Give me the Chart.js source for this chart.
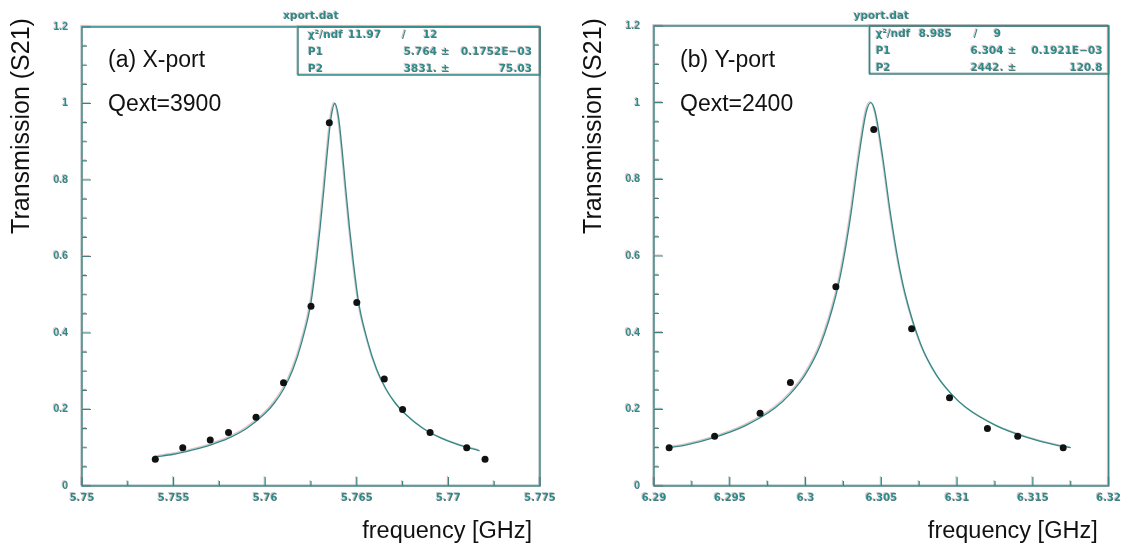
<!DOCTYPE html>
<html>
<head>
<meta charset="utf-8">
<script src="https://cdn.jsdelivr.net/npm/chart.js@4.4.1/dist/chart.umd.min.js"></script>
<style>
  html, body { margin: 0; padding: 0; background: #fff; }
  #wrap { position: relative; width: 1127px; height: 544px; }
  canvas { position: absolute; top: 0; }
  #chartA { left: 0; }
  #chartB { left: 563px; }
</style>
</head>
<body>
<div id="wrap">
  <canvas id="chartA" width="563" height="544"></canvas>
  <canvas id="chartB" width="564" height="544"></canvas>
</div>
<script>
// ---- data ----
const yTicks = [0, 0.2, 0.4, 0.6, 0.8, 1, 1.2];
const yTickLabels = ['0', '0.2', '0.4', '0.6', '0.8', '1', '1.2'];

// (a) X-port
const xTicksA = [5.75, 5.755, 5.76, 5.765, 5.77, 5.775];
const xTickLabelsA = ['5.75', '5.755', '5.76', '5.765', '5.77', '5.775'];
const freqA = [5.754, 5.7555, 5.757, 5.758, 5.7595, 5.761, 5.7625, 5.7635, 5.765, 5.7665, 5.7675, 5.769, 5.771, 5.772];
const transA = [0.07, 0.10, 0.12, 0.14, 0.18, 0.27, 0.47, 0.95, 0.48, 0.28, 0.20, 0.14, 0.10, 0.07];
const fitFreqA = [5.754, 5.755, 5.756, 5.757, 5.758, 5.759, 5.76, 5.7605, 5.761, 5.7615, 5.762, 5.7625, 5.7628,
  5.763, 5.7632, 5.7634, 5.7636, 5.7638, 5.764, 5.7642, 5.7644, 5.7646, 5.7648, 5.7651, 5.7656, 5.7661,
  5.7666, 5.7671, 5.7676, 5.7686, 5.7696, 5.7706, 5.7717];
const fitTransA = [0.076, 0.083, 0.094, 0.107, 0.125, 0.151, 0.19, 0.217, 0.253, 0.303, 0.377, 0.48, 0.59,
  0.676, 0.774, 0.878, 0.965, 1.0, 0.965, 0.878, 0.774, 0.676, 0.59, 0.48, 0.377, 0.303,
  0.253, 0.217, 0.19, 0.151, 0.125, 0.107, 0.092];
const statA = ['11.97', '12', '5.764', '0.1752E\u221203', '3831.', '75.03'];

// (b) Y-port
const xTicksB = [6.29, 6.295, 6.3, 6.305, 6.31, 6.315, 6.32];
const xTickLabelsB = ['6.29', '6.295', '6.3', '6.305', '6.31', '6.315', '6.32'];
const freqB = [6.291, 6.294, 6.297, 6.299, 6.302, 6.3045, 6.307, 6.3095, 6.312, 6.314, 6.317];
const transB = [0.10, 0.13, 0.19, 0.27, 0.52, 0.93, 0.41, 0.23, 0.15, 0.13, 0.10];
const fitFreqB = [6.291, 6.292, 6.294, 6.296, 6.298, 6.299, 6.3, 6.301, 6.302, 6.3025, 6.303, 6.3035, 6.304,
  6.3043, 6.3046, 6.3051, 6.3056, 6.3061, 6.3066, 6.3076, 6.3086, 6.3096, 6.3106, 6.3126, 6.3146,
  6.3166, 6.3175];
const fitTransB = [0.10, 0.106, 0.127, 0.157, 0.204, 0.241, 0.292, 0.37, 0.497, 0.59, 0.711, 0.855, 0.975,
  1.0, 0.975, 0.855, 0.711, 0.59, 0.497, 0.37, 0.292, 0.241, 0.204, 0.157, 0.127,
  0.106, 0.10];
const statB = ['8.985', '9', '6.304', '0.1921E\u221203', '2442.', '120.8'];

// ---- styling ----
const TEAL = '#1f9090';
const FRINGE = 'rgba(235, 120, 120, 0.55)';
const SANS = '"Liberation Sans", Arial, sans-serif';
const PAW = '"DejaVu Sans", sans-serif';

function fringe(ctx, on) {
  ctx.shadowColor = on ? FRINGE : 'rgba(0,0,0,0)';
  ctx.shadowOffsetX = on ? -1 : 0;
  ctx.shadowOffsetY = on ? -1 : 0;
  ctx.shadowBlur = 0;
}

// PAW-style frame, inward ticks, stat box and texts
const pawFrame = {
  id: 'pawFrame',
  beforeDraw(chart) { fringe(chart.ctx, true); },
  beforeDatasetsDraw(chart) { fringe(chart.ctx, false); },
  beforeDatasetDraw(chart, args) { if (args.index === 1) fringe(chart.ctx, true); },
  afterDatasetDraw(chart, args) { if (args.index === 1) fringe(chart.ctx, false); },
  afterDraw(chart, args, o) {
    const ctx = chart.ctx;
    const a = chart.chartArea;
    const xs = chart.scales.x, ys = chart.scales.y;
    ctx.save();
    fringe(ctx, true);
    ctx.strokeStyle = TEAL;
    ctx.lineWidth = 1.5;
    ctx.strokeRect(a.left, a.top, a.right - a.left, a.bottom - a.top);

    // ticks point into the plot
    ctx.lineWidth = 1.2;
    ctx.beginPath();
    const xt = o.xTicks;
    for (let i = 0; i < xt.length; i++) {
      const px = xs.getPixelForValue(xt[i]);
      ctx.moveTo(px, a.bottom); ctx.lineTo(px, a.bottom - 9);
      if (i < xt.length - 1) {
        const pm = xs.getPixelForValue((xt[i] + xt[i + 1]) / 2);
        ctx.moveTo(pm, a.bottom); ctx.lineTo(pm, a.bottom - 5);
      }
    }
    for (let i = 0; i < yTicks.length; i++) {
      const py = ys.getPixelForValue(yTicks[i]);
      ctx.moveTo(a.left, py); ctx.lineTo(a.left + 9, py);
      if (i < yTicks.length - 1) {
        for (let k = 1; k < 4; k++) {
          const pm = ys.getPixelForValue(yTicks[i] + (yTicks[i + 1] - yTicks[i]) * k / 4);
          ctx.moveTo(a.left, pm); ctx.lineTo(a.left + 5, pm);
        }
      }
    }
    ctx.stroke();

    // stat box
    const bw = o.boxW, bx = a.right - bw, by = a.top;
    ctx.lineWidth = 1.5;
    ctx.strokeRect(bx, by, bw, 48);
    ctx.fillStyle = TEAL;
    ctx.font = 'bold 10.5px ' + PAW;
    ctx.textAlign = 'center';
    ctx.fillText(o.fileName, (a.left + a.right) / 2, 19);

    const c = o.cols, s = o.stat;
    const r1 = by + 11, r2 = by + 28, r3 = by + 45;
    ctx.textAlign = 'left';
    ctx.fillText('\u03c7\u00b2/ndf', bx + c[0], r1);
    ctx.fillText(s[0], bx + c[1], r1);
    ctx.fillText('/', bx + c[2], r1);
    ctx.fillText(s[1], bx + c[3], r1);
    ctx.fillText('P1', bx + c[0], r2);
    ctx.fillText('P2', bx + c[0], r3);
    ctx.fillText('\u00b1', bx + c[5], r2);
    ctx.fillText('\u00b1', bx + c[5], r3);
    ctx.textAlign = 'right';
    ctx.fillText(s[2], bx + c[4], r2);
    ctx.fillText(s[4], bx + c[4], r3);
    ctx.fillText(s[3], bx + bw - c[6], r2);
    ctx.fillText(s[5], bx + bw - c[6], r3);

    // black annotations
    fringe(ctx, false);
    ctx.fillStyle = '#111';
    ctx.textAlign = 'left';
    ctx.font = '23px ' + SANS;
    ctx.fillText(o.label, a.left + 26, 67);
    ctx.fillText(o.qext, a.left + 26, 111);

    ctx.textAlign = 'right';
    ctx.font = '23.5px ' + SANS;
    ctx.fillText('frequency [GHz]', a.right - o.xTitleInset, 538);

    ctx.translate(a.left - 59.5, 126);
    ctx.rotate(-Math.PI / 2);
    ctx.textAlign = 'center';
    ctx.textBaseline = 'middle';
    ctx.font = '25px ' + SANS;
    ctx.fillText('Transmission (S21)', 0, 0);
    ctx.restore();
  }
};

function makeChart(id, d) {
  return new Chart(document.getElementById(id), {
    type: 'scatter',
    data: {
      datasets: [
        {
          data: d.freq.map((f, i) => ({ x: f, y: d.trans[i] })),
          pointRadius: 3.5,
          pointBackgroundColor: '#111',
          pointBorderColor: '#111',
          pointBorderWidth: 0
        },
        {
          type: 'line',
          data: d.fitFreq.map((f, i) => ({ x: f, y: d.fitTrans[i] })),
          borderColor: TEAL,
          borderWidth: 1.3,
          pointRadius: 0,
          cubicInterpolationMode: 'monotone',
          fill: false
        }
      ]
    },
    options: {
      responsive: false,
      animation: false,
      devicePixelRatio: 1,
      layout: { padding: { left: 0, top: d.padTop, right: d.padRight, bottom: 0 } },
      plugins: {
        legend: { display: false },
        tooltip: { enabled: false },
        pawFrame: d.frame
      },
      scales: {
        x: {
          type: 'linear',
          min: d.xTicks[0],
          max: d.xTicks[d.xTicks.length - 1],
          afterBuildTicks: s => { s.ticks = d.xTicks.map(v => ({ value: v })); },
          afterFit: s => { s.height = 58; },
          ticks: {
            callback: (v, i) => d.xLabels[i],
            color: TEAL,
            font: { family: PAW, size: 10, weight: 'bold' },
            padding: 6,
            maxRotation: 0,
            autoSkip: false
          },
          grid: { display: false, drawTicks: false },
          border: { display: false }
        },
        y: {
          min: 0,
          max: 1.2,
          afterBuildTicks: s => { s.ticks = yTicks.map(v => ({ value: v })); },
          afterFit: s => { s.width = d.axisLeft; },
          ticks: {
            callback: (v, i) => yTickLabels[i],
            color: TEAL,
            font: { family: SANS, size: 10.5, weight: 'bold' },
            padding: 14,
            autoSkip: false
          },
          grid: { display: false, drawTicks: false },
          border: { display: false }
        }
      }
    },
    plugins: [pawFrame]
  });
}

makeChart('chartA', {
  freq: freqA, trans: transA, fitFreq: fitFreqA, fitTrans: fitTransA,
  xTicks: xTicksA, xLabels: xTickLabelsA,
  axisLeft: 82, padTop: 27, padRight: 23,
  frame: {
    xTicks: xTicksA, boxW: 242, fileName: 'xport.dat', stat: statA,
    cols: [10, 50, 104, 125, 139, 143, 8],
    label: '(a) X-port', qext: 'Qext=3900', xTitleInset: 8
  }
});

makeChart('chartB', {
  freq: freqB, trans: transB, fitFreq: fitFreqB, fitTrans: fitTransB,
  xTicks: xTicksB, xLabels: xTickLabelsB,
  axisLeft: 91, padTop: 26, padRight: 14,
  frame: {
    xTicks: xTicksB, boxW: 239, fileName: 'yport.dat', stat: statB,
    cols: [6, 49, 104, 124, 134, 138, 6],
    label: '(b) Y-port', qext: 'Qext=2400', xTitleInset: 11
  }
});
</script>
</body>
</html>
